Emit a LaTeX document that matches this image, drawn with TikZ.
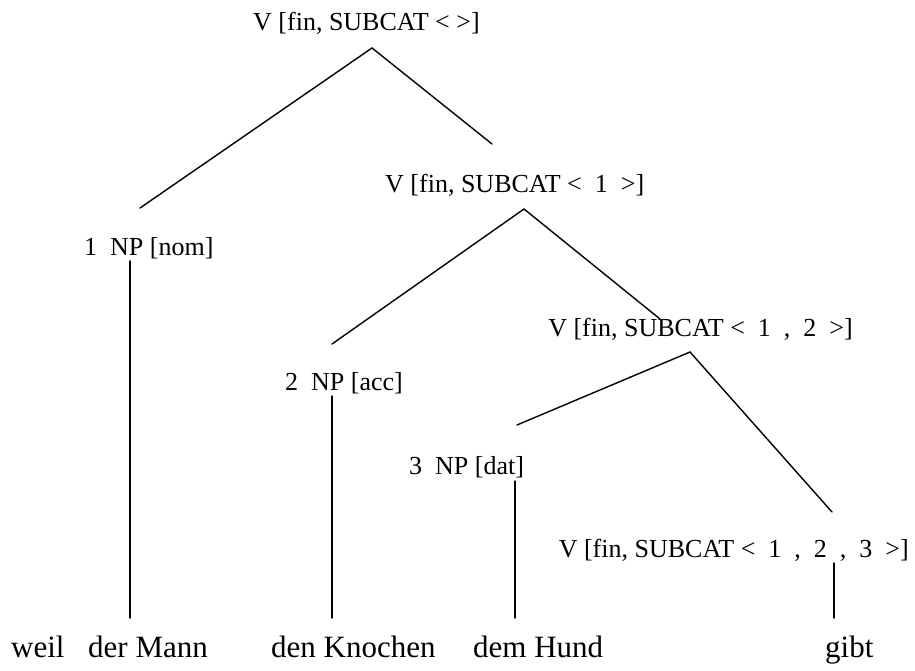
\documentclass[tikz,border=0pt]{standalone}
\usepackage{fontspec}
\setmainfont{Liberation Serif}
\begin{document}
\begin{tikzpicture}[x=1pt,y=-1pt,
  lbl/.style={inner sep=0pt,anchor=base west,font=\fontsize{26}{30}\selectfont},
  word/.style={inner sep=0pt,anchor=base west,font=\fontsize{31}{36}\selectfont},
  edge/.style={line width=1.4pt,line cap=round}]
\useasboundingbox (0,0) rectangle (915,671);
% category labels
\node[lbl] (v0) at (253,31) {V [fin, SUBCAT < >]};
\node[lbl] (v1) at (385,193) {V [fin, SUBCAT <~~1~~>]};
\node[lbl] (np1) at (84,255) {1~~NP [nom]};
\node[lbl,anchor=base east] (v2) at (853,336) {V [fin, SUBCAT <~~1~~,~~2~~>]};
\node[lbl] (np2) at (285,390) {2~~NP [acc]};
\node[lbl] (np3) at (409,474) {3~~NP [dat]};
\node[lbl,anchor=base east] (v3) at (909,557) {V [fin, SUBCAT <~~1~~,~~2~~,~~3~~>]};
% words
\node[word] (w1) at (11,657) {weil};
\node[word] (w2) at (88,657) {der Mann};
\node[word] (w3) at (271,657) {den Knochen};
\node[word] (w4) at (473,657) {dem Hund};
\node[word] (w5) at (825,657) {gibt};
% branch points
\coordinate (a0) at (372,48);
\coordinate (l0) at (140,208);
\coordinate (r0) at (492,144);
\coordinate (a1) at (524,209);
\coordinate (l1) at (332,344);
\coordinate (r1) at (660,319);
\coordinate (a2) at (690,352);
\coordinate (l2) at (517,425);
\coordinate (r2) at (832,512);
\coordinate (t1) at (130,261);
\coordinate (b1) at (130,618);
\coordinate (t2) at (332,396);
\coordinate (b2) at (332,618);
\coordinate (t3) at (515,481);
\coordinate (b3) at (515,618);
\coordinate (t4) at (834,563);
\coordinate (b4) at (834,618);
% branches
\draw[edge] (l0) -- (a0) -- (r0);
\draw[edge] (l1) -- (a1) -- (r1);
\draw[edge] (l2) -- (a2) -- (r2);
\draw[edge] (t1) -- (b1);
\draw[edge] (t2) -- (b2);
\draw[edge] (t3) -- (b3);
\draw[edge] (t4) -- (b4);
\end{tikzpicture}
\end{document}
